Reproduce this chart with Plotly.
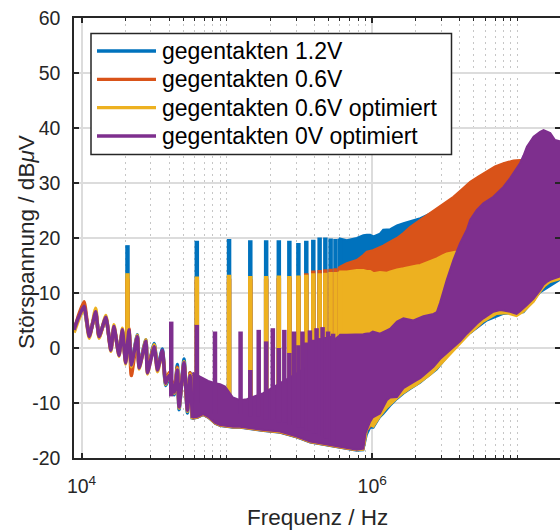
import math
import plotly.graph_objects as go

# ---------------- data ----------------
series_names = ["gegentakten 1.2V", "gegentakten 0.6V",
                "gegentakten 0.6V optimiert", "gegentakten 0V optimiert"]
series_colors = ["#0072BD", "#D95319", "#EDB120", "#7E2F8E"]

# low-frequency ripple (Hz, dBµV)
lf_freq = [8.87e3, 9.5e3, 10.4e3, 11.3e3, 12.5e3, 13.2e3, 14.7e3, 15.9e3, 16.7e3, 18.1e3,
           19.1e3, 20.1e3, 21.2e3, 22.0e3, 24.2e3, 24.9e3, 27.7e3, 28.4e3, 31.6e3, 33.3e3,
           36.0e3, 37.9e3, 40.0e3, 43.5e3, 45.6e3, 46.9e3, 50.7e3, 53.5e3, 55.8e3, 57.9e3]
blue_lf = [3.5, 5.3, 7.2, 2.4, 6.3, 2.3, 5.3, 0.0, 3.6, -0.9, 3.1, -2.3, 3.0, -2.8, 2.4, -3.2,
           1.5, -4.0, 0.8, -3.6, -0.2, -6.8, -5.5, -8.5, -3.0, -11.2, -2.0, -11.8, -4.5, -13.0]
orange_lf = [3.0, 5.8, 8.4, 2.3, 6.4, 2.0, 5.4, -0.2, 3.6, -1.0, 3.0, -2.5, 3.5, -5.0, 2.0, -3.3,
             1.0, -4.0, 0.5, -3.5, -1.0, -6.0, -4.5, -7.5, -3.5, -10.0, -3.0, -11.0, -4.5, -12.5]
yellow_lf = [2.8, 5.0, 7.3, 1.8, 7.2, 1.8, 5.9, -0.6, 4.2, -1.5, 3.6, -2.9, 3.0, -3.4, 2.3, -3.8,
             1.5, -4.7, 0.6, -4.3, -0.6, -6.6, -4.8, -8.2, -3.8, -10.9, -2.5, -11.5, -4.8, -12.9]
purple_lf = [3.3, 5.5, 7.6, 2.1, 6.6, 2.1, 5.6, -0.4, 3.9, -1.3, 3.3, -2.7, 3.3, -3.1, 2.1, -3.6,
             1.2, -4.5, 0.2, -4.0, -0.4, -6.4, -5.0, -8.0, -4.0, -10.7, -2.7, -11.3, -5.0, -12.7]

# harmonic peaks (odd harmonics of the switching frequency)
odd_harm_freq = [20.7e3, 62.1e3, 103.5e3, 144.9e3, 186.3e3, 227.7e3, 269.1e3, 310.5e3,
                 351.9e3, 393.3e3, 434.7e3, 476.1e3, 517.5e3, 558.9e3, 600.3e3]
odd_harm_base = [-1.0, -12.0, -14.0, -14.5, -14.8, -15.2, -15.5, -16.1, -16.6, -17.0,
                 -17.3, -17.5, -17.7, -17.9, -18.0]
blue_peak = [18.7, 19.5, 19.8, 19.6, 19.6, 19.6, 19.5, 19.1, 19.5, 19.7, 20.1, 20.1, 19.9, 19.8, 19.9]
orange_peak = [12.6, 12.4, 12.6, 12.5, 12.6, 12.7, 12.8, 13.0, 13.6, 14.1, 14.2, 14.3, 14.4, 14.5, 14.8]
yellow_peak = [13.6, 13.0, 13.3, 13.1, 13.1, 13.2, 13.1, 13.2, 13.3, 13.6, 13.6, 13.7, 13.8, 13.8, 13.9]

purple_peak_freq = [41.4e3, 62.1e3, 82.8e3, 124.2e3, 144.9e3, 165.6e3, 186.3e3, 207.0e3,
                    227.7e3, 248.4e3, 269.1e3, 289.8e3, 310.5e3, 331.2e3, 351.9e3, 372.6e3,
                    393.3e3, 414.0e3, 434.7e3, 455.4e3, 476.1e3, 496.8e3, 517.5e3, 538.2e3]
purple_peak_base = [-8.8, -10.0, -12.0, -12.0, -12.5, -12.5, -13.0, -13.0, -13.5, -13.5, -14.0, -14.0,
                    -14.5, -14.5, -15.0, -15.0, -15.5, -15.5, -16.0, -16.0, -16.5, -16.5, -17.0, -17.0]
purple_peak = [4.8, 4.2, 3.0, 3.0, -4.0, 3.3, 1.2, 3.6, 0.0, 3.3, -0.9, 3.0,
               0.5, 3.0, 1.0, 3.2, 1.5, 3.6, 1.8, 3.8, 2.0, 3.0, 2.2, 2.6]

# dense spectrum regions: upper / lower envelope (Hz, dBµV)
blue_band_f = [57.9e3, 63e3, 68.6e3, 74.3e3, 83e3, 89.8e3, 97.2e3, 110e3, 123e3, 137e3, 178e3,
               232e3, 303e3, 374e3, 394e3, 450e3, 513e3, 590e3,
               601e3, 668e3, 783e3, 869e3, 900e3, 918e3, 968e3, 1.02e6, 1.13e6, 1.19e6, 1.33e6,
               1.48e6, 1.64e6, 1.82e6, 2.14e6, 2.31e6, 2.78e6, 3.62e6, 4.72e6, 6.15e6, 8.0e6,
               1.1e7, 1.43e7, 1.96e7]
blue_band_hi = [-4.9, -5.4, -5.9, -6.4, -6.8, -7.0, -7.4, -9.4, -9.9, -9.7, -8.6, -6.8, -5.0, -3.4,
                -2.6, -1.2, 0.45, 1.8,
                19.9, 19.6, 20.0, 20.5, 20.6, 20.6, 20.6, 20.3, 20.8, 21.5, 21.6, 22.3, 22.7, 23.0,
                23.6, 24.0, 25.0, 27.0, 29.5, 31.5, 33.0, 33.5, 30.0, 26.0]
blue_band_lo = [-12.9, -12.7, -12.2, -12.7, -13.8, -14.2, -14.4, -14.5, -14.5, -14.7, -15.1, -15.4,
                -16.3, -17.2, -17.4, -17.6, -17.8, -18.1,
                -18.2, -18.4, -18.7, -18.6, -17.0, -15.8, -14.5, -14.5, -12.6, -12.0, -10.5, -9.3,
                -8.3, -7.5, -6.3, -5.6, -3.9, -0.2, 2.7, 5.0, 6.2, 6.5, 10.1, 12.4]

orange_band_f = [57.9e3, 63e3, 68.6e3, 74.3e3, 83e3, 89.8e3, 97.2e3, 110e3, 123e3, 137e3, 178e3,
                 232e3, 303e3, 374e3, 394e3, 450e3, 513e3, 590e3,
                 601e3, 668e3, 783e3, 869e3, 918e3, 1.01e6, 1.19e6, 1.30e6, 1.48e6, 1.64e6,
                 1.82e6, 2.14e6, 2.45e6, 2.78e6, 3.2e6, 3.62e6, 4.2e6, 4.72e6, 5.4e6, 6.15e6,
                 7.0e6, 8.0e6, 9.37e6, 1.04e7, 1.10e7, 1.16e7, 1.29e7, 1.43e7, 1.68e7, 1.96e7]
orange_band_hi = [-5.0, -5.5, -6.0, -6.5, -6.9, -7.1, -7.5, -9.5, -10.0, -9.8, -8.7, -6.9, -5.1,
                  -3.5, -2.7, -1.3, 0.35, 1.7,
                  14.8, 15.4, 16.0, 16.9, 17.5, 17.8, 18.6, 19.2, 20.0, 20.9, 22.0, 23.3, 24.4,
                  25.4, 26.5, 27.5, 29.0, 30.2, 31.2, 32.1, 33.0, 33.6, 34.1, 34.2, 34.1, 33.6,
                  33.0, 32.0, 30.0, 28.0]
orange_band_lo = [-12.85, -12.65, -12.15, -12.65, -13.75, -14.15, -14.35, -14.45, -14.45, -14.65,
                  -15.05, -15.35, -16.25, -17.15, -17.35, -17.55, -17.75, -18.05,
                  -18.1, -18.3, -18.6, -18.4, -15.0, -13.8, -11.5, -10.3, -9.0, -8.0, -7.0, -5.8,
                  -4.2, -3.0, -1.5, 0.0, 1.6, 2.8, 4.0, 5.6, 6.3, 6.5, 6.2, 6.4, 6.8, 7.4, 8.5,
                  10.4, 12.2, 12.7]

yellow_band_f = [57.9e3, 63e3, 68.6e3, 74.3e3, 83e3, 89.8e3, 97.2e3, 110e3, 123e3, 137e3, 178e3,
                 232e3, 303e3, 374e3, 394e3, 450e3, 513e3, 590e3,
                 601e3, 668e3, 783e3, 869e3, 900e3, 918e3, 968e3, 1.02e6, 1.13e6, 1.26e6, 1.33e6,
                 1.48e6, 1.64e6, 1.82e6, 2.02e6, 2.14e6, 2.50e6, 2.78e6, 3.07e6, 3.26e6, 3.72e6,
                 3.78e6, 4.72e6, 5.82e6, 7.2e6, 8.4e6, 9.85e6, 1.10e7, 1.29e7, 1.43e7, 1.54e7,
                 1.68e7, 1.86e7, 1.96e7]
yellow_band_hi = [-5.1, -5.6, -6.1, -6.6, -7.0, -7.2, -7.6, -9.6, -10.1, -9.9, -8.8, -7.0, -5.2,
                  -3.6, -2.8, -1.4, 0.25, 1.6,
                  13.9, 13.9, 14.2, 14.2, 14.1, 14.0, 14.0, 13.6, 13.8, 13.7, 13.9, 14.3, 14.5,
                  14.8, 15.0, 15.1, 15.8, 16.3, 16.9, 17.2, 17.5, 17.5, 18.0, 19.0, 20.0, 21.0,
                  22.0, 23.0, 24.0, 25.0, 25.0, 25.0, 25.0, 25.0]
yellow_band_lo = [-12.8, -12.6, -12.1, -12.6, -13.7, -14.1, -14.3, -14.4, -14.4, -14.6, -15.0,
                  -15.3, -16.2, -17.1, -17.3, -17.5, -17.7, -18.0,
                  -18.1, -18.3, -18.6, -18.5, -16.5, -15.0, -14.0, -14.3, -12.5, -10.9, -10.4,
                  -9.2, -8.2, -7.4, -6.7, -6.2, -4.9, -3.8, -2.5, -1.8, -0.3, -0.05, 2.7, 4.8,
                  6.2, 6.3, 5.8, 6.6, 8.4, 10.2, 11.3, 12.0, 12.3, 12.5]

purple_band_f = [57.9e3, 63e3, 68.6e3, 74.3e3, 83e3, 89.8e3, 97.2e3, 110e3, 123e3, 137e3, 178e3,
                 232e3, 303e3, 374e3, 394e3, 450e3, 513e3, 590e3,
                 601e3, 668e3, 783e3, 869e3, 900e3, 968e3, 1.01e6, 1.13e6, 1.26e6, 1.33e6,
                 1.48e6, 1.64e6, 1.92e6, 2.14e6, 2.25e6, 2.64e6, 2.78e6, 2.93e6, 3.26e6, 3.62e6,
                 4.02e6, 4.48e6, 4.72e6, 5.25e6, 5.82e6, 6.82e6, 7.59e6, 8.00e6, 8.90e6, 9.37e6,
                 9.85e6, 1.04e7, 1.10e7, 1.16e7, 1.29e7, 1.43e7, 1.51e7, 1.59e7, 1.68e7, 1.81e7,
                 1.96e7]
purple_band_hi = [-4.5, -5.0, -5.5, -6.0, -6.4, -6.6, -7.0, -9.0, -9.5, -9.3, -8.2, -6.4, -4.6,
                  -3.0, -2.2, -0.8, 0.85, 2.2,
                  2.4, 2.4, 2.4, 2.5, 2.6, 2.7, 3.0, 2.6, 3.2, 3.5, 4.8, 5.4, 5.0, 5.6, 5.8, 6.2,
                  6.5, 8.2, 12.4, 16.0, 19.0, 21.5, 23.3, 25.1, 26.3, 27.5, 28.7, 29.3, 30.9,
                  31.8, 32.6, 33.6, 35.0, 36.6, 38.4, 39.3, 39.6, 39.4, 39.1, 37.8, 37.6]
purple_band_lo = [-12.7, -12.5, -12.0, -12.5, -13.6, -14.0, -14.2, -14.3, -14.3, -14.5, -14.9,
                  -15.2, -16.1, -17.0, -17.2, -17.4, -17.6, -17.9,
                  -18.0, -18.2, -18.5, -18.3, -15.5, -13.4, -12.6, -11.9, -9.5, -9.0, -8.9,
                  -7.3, -6.2, -5.5, -5.0, -3.4, -2.8, -2.0, -0.9, 0.2, 1.2, 2.6, 3.3, 4.4, 5.4,
                  6.6, 6.9, 6.8, 6.6, 6.4, 6.2, 6.7, 7.2, 7.8, 9.0, 10.5, 11.5, 12.0, 12.4, 12.7,
                  13.0]

# axes
x_range_hz = [8.87e3, 1.96e7]
x_tick_vals = [1e4, 1e6]
x_tick_text = ["10<sup>4</sup>", "10<sup>6</sup>"]
x_minor_vals = [2e4, 3e4, 4e4, 5e4, 6e4, 7e4, 8e4, 9e4, 1e5,
                2e5, 3e5, 4e5, 5e5, 6e5, 7e5, 8e5, 9e5,
                2e6, 3e6, 4e6, 5e6, 6e6, 7e6, 8e6, 9e6, 1e7]
y_range = [-20, 60]
y_tick_vals = [-20, -10, 0, 10, 20, 30, 40, 50, 60]
y_tick_text = ["-20", "-10", "0", "10", "20", "30", "40", "50", "60"]

# ---------------- figure ----------------
FONT = "Liberation Sans, Arial, Helvetica, sans-serif"
AX = "#262626"

series = [
    (blue_lf, odd_harm_freq, odd_harm_base, blue_peak, blue_band_f, blue_band_hi, blue_band_lo),
    (orange_lf, odd_harm_freq, odd_harm_base, orange_peak, orange_band_f, orange_band_hi, orange_band_lo),
    (yellow_lf, odd_harm_freq, odd_harm_base, yellow_peak, yellow_band_f, yellow_band_hi, yellow_band_lo),
    (purple_lf, purple_peak_freq, purple_peak_base, purple_peak, purple_band_f, purple_band_hi, purple_band_lo),
]

fig = go.Figure()
for (lf, pf, pb, pt, bf, bh, bl), name, col in zip(series, series_names, series_colors):
    # dense region as filled envelope
    fig.add_trace(go.Scatter(
        x=list(bf) + list(bf)[::-1], y=list(bh) + list(bl)[::-1],
        mode="lines", fill="toself", fillcolor=col,
        line=dict(color=col, width=2), name=name, legendgroup=name,
        showlegend=False, hoverinfo="skip"))
    # harmonic peaks
    sx, sy = [], []
    for f, b, t in zip(pf, pb, pt):
        sx += [f, f, None]
        sy += [b, t, None]
    fig.add_trace(go.Scatter(
        x=sx, y=sy, mode="lines", line=dict(color=col, width=4.5),
        name=name, legendgroup=name, showlegend=False, hoverinfo="skip"))
    # low-frequency ripple
    fig.add_trace(go.Scatter(
        x=lf_freq, y=lf, mode="lines",
        line=dict(color=col, width=3.6, shape="spline", smoothing=0.5),
        name=name, legendgroup=name, showlegend=False))

# manual MATLAB-style legend
L, R, T, B = 74, 560, 18, 458
def px(x):
    return (x - L) / (R - L)
def py(y):
    return (B - y) / (B - T)

shapes = [dict(type="rect", xref="paper", yref="paper",
               x0=px(91), x1=px(451.5), y0=py(154.5), y1=py(33.5),
               fillcolor="white", line=dict(color=AX, width=1.5), layer="above")]
annotations = []
row_y = [51, 79.3, 107.7, 136]
for name, col, ry in zip(series_names, series_colors, row_y):
    shapes.append(dict(type="line", xref="paper", yref="paper",
                       x0=px(97), x1=px(156), y0=py(ry), y1=py(ry),
                       line=dict(color=col, width=3.3), layer="above"))
    annotations.append(dict(text=name, xref="paper", yref="paper",
                            x=px(160), y=py(ry), xanchor="left", yanchor="middle",
                            showarrow=False, font=dict(family=FONT, size=23, color="black")))

annotations.append(dict(text="Frequenz / Hz", xref="paper", yref="paper",
                        x=px(317), y=py(517), xanchor="center", yanchor="middle",
                        showarrow=False, font=dict(family=FONT, size=22.5, color=AX)))
annotations.append(dict(text="Störspannung / dB<i>μ</i>V", xref="paper", yref="paper",
                        x=px(27), y=py(242), xanchor="center", yanchor="middle",
                        textangle=-90, showarrow=False,
                        font=dict(family=FONT, size=22.5, color=AX)))

fig.update_layout(
    width=560, height=530,
    margin=dict(l=L, r=560 - R, t=T, b=530 - B, pad=0, autoexpand=False),
    paper_bgcolor="white", plot_bgcolor="white",
    font=dict(family=FONT, color=AX),
    showlegend=False,
    shapes=shapes, annotations=annotations,
    xaxis=dict(
        type="log", range=[math.log10(x_range_hz[0]), math.log10(x_range_hz[1])],
        automargin=False,
        tickmode="array", tickvals=x_tick_vals, ticktext=x_tick_text,
        ticks="inside", ticklen=5, tickwidth=1.5, tickcolor=AX,
        showline=True, linecolor=AX, linewidth=1.5, mirror="ticks",
        showgrid=True, gridcolor="#dcdcdc", gridwidth=1.5, zeroline=False,
        tickfont=dict(family=FONT, size=19.5, color=AX), ticklabelstandoff=10,
        minor=dict(tickmode="array", tickvals=x_minor_vals, ticks="inside", ticklen=3,
                   tickwidth=1, tickcolor=AX, showgrid=True, gridcolor="#c6c6c6",
                   griddash="2px,4px", gridwidth=1.2),
    ),
    yaxis=dict(
        range=y_range, automargin=False,
        tickmode="array", tickvals=y_tick_vals, ticktext=y_tick_text,
        ticks="inside", ticklen=5, tickwidth=1.5, tickcolor=AX,
        showline=True, linecolor=AX, linewidth=1.5, mirror="ticks",
        showgrid=True, gridcolor="#dcdcdc", gridwidth=1.5, zeroline=False,
        tickfont=dict(family=FONT, size=19.5, color=AX), ticklabelstandoff=8,
    ),
)

fig.write_html(
    "out.html",
    config={"displayModeBar": False},
    post_script="document.body.style.margin='0';document.body.style.padding='0';"
                "document.documentElement.style.overflow='hidden';"
                "document.body.style.overflow='hidden';",
)
